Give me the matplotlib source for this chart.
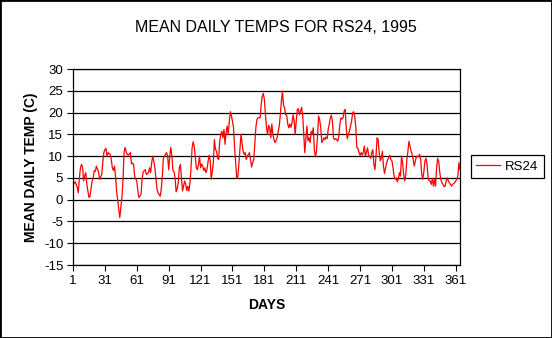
import matplotlib
matplotlib.use("Agg")
import matplotlib.pyplot as plt
from matplotlib.patches import Rectangle

title = "MEAN DAILY TEMPS FOR RS24, 1995"
x_label = "DAYS"
y_label = "MEAN DAILY TEMP (C)"
series_name = "RS24"

temps_jan_mar = [
    3.1, 3.8, 4.1, 3.5, 2.8, 1.6, 5, 7.3, 8.1, 7.5, 4.3, 5.5, 6.2, 3.5, 2, 0.5, 0.8, 2.7, 4.2, 5,
    6.7, 6.5, 7.7, 7, 6.4, 4.7, 5.2, 5.8, 8.5, 10.8, 11.5, 11.8, 10, 10.8, 10.6, 10.4, 9.2, 7.3, 6.7, 7.7,
    5.4, 2, 0, -2.2, -4.1, -1.8, 0.5, 4.3, 10.8, 12, 11, 10.4, 10.2, 10.5, 10.8, 8.2, 8.4, 8.1, 5.4, 4.8,
    4.3, 2, 0.5, 0.9, 1.2, 4.7, 6.4, 6.6, 6.9, 5.8, 6, 6.2, 7.3,
]
temps_mar_may = [
    6.2, 8.5, 10, 8.8, 7.3, 5, 2.4, 1.6, 1.2, 0.8, 2.4, 5.4, 9.5, 10, 10.4, 10.8, 10, 6.9, 10, 12,
    10, 6.7, 6.4, 5, 1.8, 2.5, 3.9, 7.3, 8.1, 5, 2, 3.1, 4.3, 3.5, 2.1, 3.1, 2, 3.9, 7.3, 11.9,
    13.3, 12.3, 10, 7.3, 6.9, 8.1, 10, 7.3, 8.2, 7.7, 6.7, 7.3, 6.2, 6.9, 8.7, 10.2, 9.2, 4.7, 6.4, 8.5,
    13.8, 11.5, 11.1, 9.5, 9.2, 13.4, 15, 15.7, 14.2, 16.1, 12.7, 15.3, 16.9,
]
temps_may_aug = [
    15, 18, 20.2, 19.2, 18, 16.5, 11.9, 8.5, 5, 5.2, 8.1, 11.5, 15, 13.1, 11.1, 10.4, 10.8, 9.2, 10, 10.4,
    10.8, 9.2, 7.5, 8.5, 9.2, 12.7, 16.6, 18.4, 18.8, 18.8, 18.8, 21.8, 23.7, 24.4, 23, 19.5, 16.5, 15, 17.1, 16.5,
    14.2, 17.4, 15, 13.8, 13.1, 13.6, 14.2, 15.7, 16.9, 19.5, 22.6, 24.9, 21.7, 21.1, 19.5, 19.4, 17.4, 16.5, 17.4, 16.6,
    17.6, 19.5, 18, 15, 18.2, 20.7, 20.9, 19.5, 20.3, 21.2, 19.5, 15, 10.8, 14,
]
temps_aug_oct = [
    16.9, 13.5, 14.2, 13.1, 15.7, 15, 16.5, 11.5, 9.8, 11.1, 14.6, 19.2, 18.4, 16.5, 13.1, 13.6, 14.2, 13.8, 14.4, 14,
    16.1, 17.3, 18.8, 19.4, 18, 14.2, 13.8, 14, 13.8, 13.4, 14.6, 17.3, 18.8, 18.5, 18.8, 20.3, 20.7, 16.5, 14, 15,
    15.7, 16.9, 18, 19.9, 20.2, 19.2, 16.6, 11.9, 11.8, 10.8, 10.2, 10.8, 10.2, 10.8, 12.3, 10, 10.8, 11.9, 10.4, 9.8,
    9.5, 10.8, 11.5, 8.1, 6.9, 10, 14.2, 13.8, 10.8, 8.9, 9.6, 11.1, 7.7, 6,
]
temps_oct_dec = [
    7.3, 8.5, 9.2, 9.6, 10.2, 9.2, 8.9, 7.3, 5.4, 4.7, 5, 4.1, 4.7, 6.2, 5.4, 10, 8.5, 5.8, 4.3, 5.8,
    9.2, 11.1, 13.4, 12.3, 11.1, 10.4, 9.2, 7.7, 8.9, 10, 9.8, 10, 10.4, 9.2, 5.8, 4.7, 6.4, 8.9, 9.5, 8.1,
    5, 4.3, 4.3, 3.5, 4.9, 3.1, 4.7, 3.1, 7.3, 9.5, 8.7, 6.2, 4.7, 3.9, 3.5, 3, 3.1, 4.3, 5, 4.3,
    3.9, 3.5, 3.1, 3.5, 3.7, 3.9, 4.3, 4.7, 5.4, 8.5, 6.9,
]
temps = temps_jan_mar + temps_mar_may + temps_may_aug + temps_aug_oct + temps_oct_dec
days = list(range(1, len(temps) + 1))

x_ticks = list(range(1, 366, 30))
y_ticks = list(range(-15, 31, 5))

FONT = "Liberation Sans"
W, H = 552, 338
fig = plt.figure(figsize=(W / 100, H / 100), dpi=100)
fig.patch.set_facecolor("white")
ax = fig.add_axes([73 / W, 1 - 265 / H, (460 - 73) / W, (265 - 69) / H])

line, = ax.plot(days, temps, color="#ff0000", lw=0.9, label=series_name)

ax.set_xlim(1, 365)
ax.set_ylim(-15, 30)
ax.set_xticks(x_ticks)
ax.set_yticks(y_ticks)
ax.set_xticklabels([str(t) for t in x_ticks], fontfamily=FONT, fontsize=9.5)
ax.set_yticklabels([str(t) for t in y_ticks], fontfamily=FONT, fontsize=9.5)
ax.tick_params(direction="out", length=4, width=0.8, color="black", pad=3)
ax.yaxis.grid(True, color="black", lw=0.9)
ax.set_axisbelow(True)
for s in ax.spines.values():
    s.set_color("black")
    s.set_linewidth(0.9)

ax.set_xlabel(x_label, fontfamily=FONT, fontsize=10, fontweight="bold", labelpad=8)
ax.set_ylabel(y_label, fontfamily=FONT, fontsize=10, fontweight="bold", labelpad=4)
fig.text(0.5, 1 - 28 / H, title, ha="center", va="center", fontfamily=FONT, fontsize=11.5)

leg = fig.legend(handles=[line], loc="upper left", bbox_to_anchor=(471 / W, 1 - 155 / H),
                 prop={"family": FONT, "size": 9.5}, frameon=True, fancybox=False,
                 edgecolor="black", framealpha=1, handlelength=1.8, handletextpad=0.4,
                 borderpad=0.4, borderaxespad=0)
leg.get_frame().set_linewidth(0.9)

fig.add_artist(Rectangle((0, 0), 1, 1, transform=fig.transFigure, fill=False,
                         edgecolor="black", lw=2))

fig.savefig("out.png", dpi=100)
